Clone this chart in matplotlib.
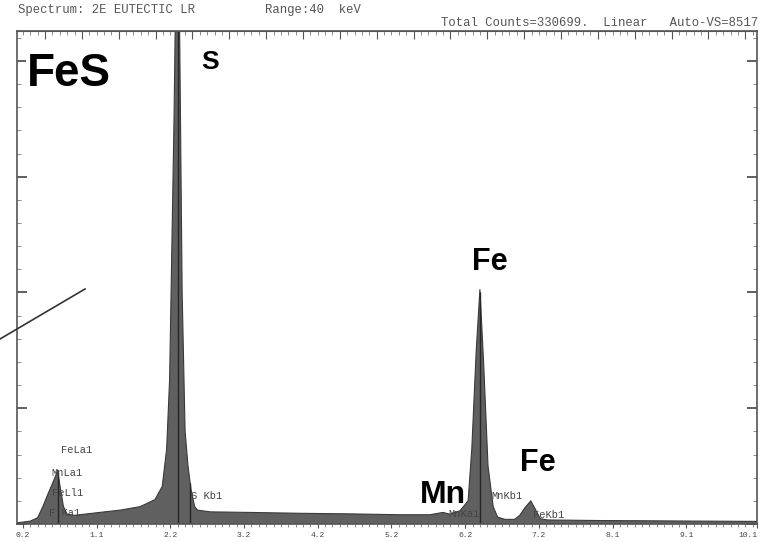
import matplotlib.pyplot as plt
from matplotlib.lines import Line2D
from matplotlib.ticker import MultipleLocator, FixedLocator
import numpy as np

# spectrum: energy (keV) and counts
energy = [0.12, 0.30, 0.40, 0.47, 0.54, 0.60, 0.64, 0.67, 0.71, 0.75, 0.80, 0.90,
          1.24, 1.52, 1.79, 1.99, 2.09, 2.15, 2.19, 2.25, 2.30, 2.36, 2.40,
          2.44, 2.48, 2.53, 2.57, 2.74, 3.28, 3.96, 4.64, 5.32, 5.72, 5.90,
          5.99, 6.13, 6.24, 6.29, 6.35, 6.40, 6.45, 6.51, 6.58, 6.64, 6.74,
          6.87, 6.94, 7.01, 7.09, 7.15, 7.22, 7.32, 8.03, 9.39, 10.16]
counts = [20, 50, 110, 300, 520, 700, 820, 930, 600, 300, 170, 150,
          200, 240, 300, 420, 650, 1300, 2500, 7000, 12000, 4000, 1600,
          1000, 600, 300, 240, 210, 200, 185, 175, 160, 160, 200,
          170, 230, 400, 1300, 3000, 4050, 2800, 1000, 300, 120, 80,
          80, 150, 280, 400, 260, 90, 70, 60, 50, 45]

# KLM marker lines (energy, height)
marker_e = [0.67, 2.31, 2.46, 6.40]
marker_h = [900, 8517, 700, 4000]

tick_pos = [0.2, 1.2, 2.2, 3.2, 4.2, 5.2, 6.2, 7.2, 8.2, 9.2, 10.16]
tick_lab = ['0.2', '1.1', '2.2', '3.2', '4.2', '5.2', '6.2', '7.2', '8.1', '9.1', '10.1']

line_labels = [(0.72, 1270, 'FeLa1'), (0.59, 880, 'MnLa1'), (0.59, 540, 'FeLl1'),
               (0.56, 190, 'F Ka1'), (2.48, 480, 'S Kb1'), (5.97, 170, 'MnKa1'),
               (6.56, 480, 'MnKb1'), (7.12, 150, 'FeKb1')]

mono = 'Liberation Mono'

fig = plt.figure(figsize=(7.64, 5.42), dpi=100)
ax = fig.add_axes([0.0223, 0.0332, 0.9686, 0.9096])

ax.fill_between(energy, counts, color='#606060', lw=0)
ax.plot(energy, counts, color='#3a3a3a', lw=0.8)
ax.vlines(marker_e, 0, marker_h, color='#262626', lw=1.0)

ax.set_xlim(0.12, 10.16)
ax.set_ylim(0, 8517)

for s in ax.spines.values():
    s.set_color('#555555')
    s.set_linewidth(1.2)

ax.xaxis.set_major_locator(FixedLocator(tick_pos))
ax.set_xticklabels(tick_lab, fontsize=5.8, family=mono, color='#444444')
ax.get_xticklabels()[-1].set_horizontalalignment('right')
ax.xaxis.set_minor_locator(MultipleLocator(0.1))
ax.tick_params(axis='x', which='major', direction='out', length=3, pad=3, color='#555555')
ax.tick_params(axis='x', which='minor', direction='out', length=2, color='#777777')

ax.yaxis.set_major_locator(MultipleLocator(2000))
ax.yaxis.set_minor_locator(MultipleLocator(400))
ax.tick_params(axis='y', which='major', direction='in', length=7, width=1.2,
               left=True, right=True, labelleft=False, color='#444444')
ax.tick_params(axis='y', which='minor', direction='in', length=3,
               left=True, right=True, color='#777777')

top = ax.secondary_xaxis('top')
top.xaxis.set_major_locator(MultipleLocator(0.5))
top.xaxis.set_minor_locator(MultipleLocator(0.1))
top.tick_params(which='major', direction='in', length=6, color='#555555', labeltop=False)
top.tick_params(which='minor', direction='in', length=3, color='#777777')
top.spines['top'].set_color('#555555')

for x, y, t in line_labels:
    ax.text(x, y, t, family=mono, fontsize=7.5, color='#444444', va='center', zorder=4)

box = dict(facecolor='white', edgecolor='none', pad=0.5)
big = dict(fontweight='bold', family='Liberation Sans', va='center', zorder=5)
ax.text(0.25, 7770, 'FeS', fontsize=33, bbox=box, **big)
ax.text(2.62, 7990, 'S', fontsize=19, bbox=box, **big)
ax.text(6.29, 4520, 'Fe', fontsize=22, bbox=box, **big)
ax.text(6.95, 1060, 'Fe', fontsize=22, bbox=box, **big)
ax.text(5.59, 500, 'Mn', fontsize=23, **big)

fig.text(18 / 764, 1 - 10 / 542, 'Spectrum: 2E EUTECTIC LR', family=mono,
         fontsize=8.8, color='#555555', va='center')
fig.text(265 / 764, 1 - 10 / 542, 'Range:40  keV', family=mono,
         fontsize=8.8, color='#555555', va='center')
fig.text(758 / 764, 1 - 23 / 542, 'Total Counts=330699.  Linear   Auto-VS=8517',
         family=mono, fontsize=8.8, color='#555555', va='center', ha='right')

fig.add_artist(Line2D([0, 85 / 764], [1 - 339 / 542, 1 - 289 / 542],
                      color='#333333', lw=1.2))

fig.savefig('out.png', dpi=100)
